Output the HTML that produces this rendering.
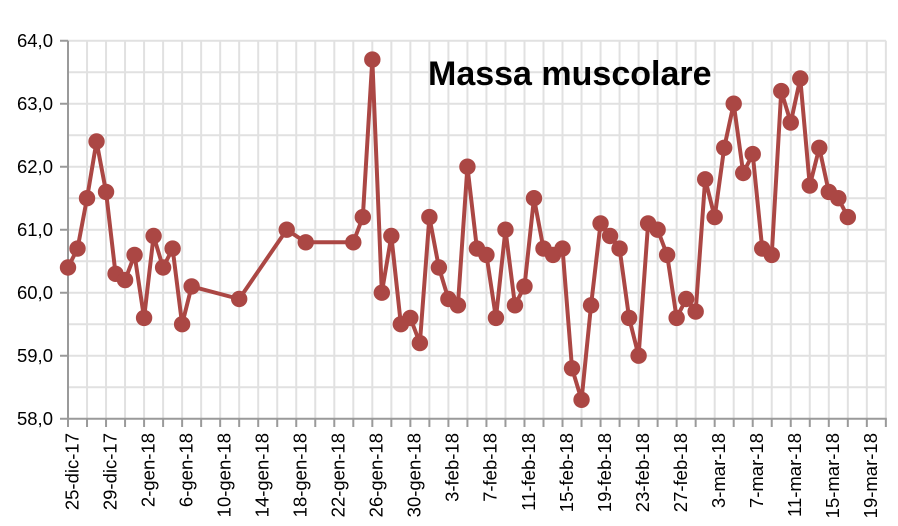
<!DOCTYPE html>
<html><head><meta charset="utf-8"><style>
html,body{margin:0;padding:0;background:#fff;}
svg{display:block;}
text{font-family:"Liberation Sans",Arial,sans-serif;fill:#000;}
</style></head><body>
<svg width="898" height="526" viewBox="0 0 898 526" xmlns="http://www.w3.org/2000/svg">
<defs>
<marker id="dot" viewBox="-10 -10 20 20" markerWidth="20" markerHeight="20" refX="0" refY="0" markerUnits="userSpaceOnUse">
<circle cx="0" cy="0" r="8.2" fill="#ab4744"/>
</marker>
</defs>
<rect width="898" height="526" fill="#fff"/>
<!-- horizontal gridlines -->
<path d="M68 387.2H886M68 355.7H886M68 324.2H886M68 292.7H886M68 261.2H886M68 229.7H886M68 198.2H886M68 166.7H886M68 135.2H886M68 103.7H886M68 72.2H886M68 40.7H886" stroke="#e1e1e1" stroke-width="2" fill="none"/>
<!-- vertical gridlines -->
<path d="M87.02 40.7V418.7M106.04 40.7V418.7M125.06 40.7V418.7M144.08 40.7V418.7M163.1 40.7V418.7M182.12 40.7V418.7M201.14 40.7V418.7M220.16 40.7V418.7M239.18 40.7V418.7M258.2 40.7V418.7M277.22 40.7V418.7M296.24 40.7V418.7M315.26 40.7V418.7M334.28 40.7V418.7M353.3 40.7V418.7M372.32 40.7V418.7M391.34 40.7V418.7M410.36 40.7V418.7M429.38 40.7V418.7M448.4 40.7V418.7M467.42 40.7V418.7M486.44 40.7V418.7M505.46 40.7V418.7M524.48 40.7V418.7M543.5 40.7V418.7M562.52 40.7V418.7M581.54 40.7V418.7M600.56 40.7V418.7M619.58 40.7V418.7M638.6 40.7V418.7M657.62 40.7V418.7M676.64 40.7V418.7M695.66 40.7V418.7M714.68 40.7V418.7M733.7 40.7V418.7M752.72 40.7V418.7M771.74 40.7V418.7M790.76 40.7V418.7M809.78 40.7V418.7M828.8 40.7V418.7M847.82 40.7V418.7M866.84 40.7V418.7M885.86 40.7V418.7" stroke="#e1e1e1" stroke-width="2" fill="none"/>
<!-- axes -->
<path d="M68 40.7V419.7" stroke="#9a9a9a" stroke-width="2" fill="none"/>
<path d="M60 418.7H886.8" stroke="#9a9a9a" stroke-width="2" fill="none"/>
<!-- y ticks -->
<path d="M60 40.7H68M60 103.7H68M60 166.7H68M60 229.7H68M60 292.7H68M60 355.7H68" stroke="#9a9a9a" stroke-width="2" fill="none"/>
<!-- x ticks -->
<path d="M68 418.7V427M87.02 418.7V427M106.04 418.7V427M125.06 418.7V427M144.08 418.7V427M163.1 418.7V427M182.12 418.7V427M201.14 418.7V427M220.16 418.7V427M239.18 418.7V427M258.2 418.7V427M277.22 418.7V427M296.24 418.7V427M315.26 418.7V427M334.28 418.7V427M353.3 418.7V427M372.32 418.7V427M391.34 418.7V427M410.36 418.7V427M429.38 418.7V427M448.4 418.7V427M467.42 418.7V427M486.44 418.7V427M505.46 418.7V427M524.48 418.7V427M543.5 418.7V427M562.52 418.7V427M581.54 418.7V427M600.56 418.7V427M619.58 418.7V427M638.6 418.7V427M657.62 418.7V427M676.64 418.7V427M695.66 418.7V427M714.68 418.7V427M733.7 418.7V427M752.72 418.7V427M771.74 418.7V427M790.76 418.7V427M809.78 418.7V427M828.8 418.7V427M847.82 418.7V427M866.84 418.7V427M885.86 418.7V427" stroke="#9a9a9a" stroke-width="2" fill="none"/>
<!-- y labels -->
<g font-size="18.5" text-anchor="end">
<text x="53" y="47.2">64,0</text>
<text x="53" y="110.2">63,0</text>
<text x="53" y="173.2">62,0</text>
<text x="53" y="236.2">61,0</text>
<text x="53" y="299.2">60,0</text>
<text x="53" y="362.2">59,0</text>
<text x="53" y="425.2">58,0</text>
</g>
<!-- x labels -->
<g font-size="18.5" text-anchor="end">
<text transform="translate(78.3,433) rotate(-90)">25-dic-17</text>
<text transform="translate(116.34,433) rotate(-90)">29-dic-17</text>
<text transform="translate(154.38,433) rotate(-90)">2-gen-18</text>
<text transform="translate(192.42,433) rotate(-90)">6-gen-18</text>
<text transform="translate(230.46,433) rotate(-90)">10-gen-18</text>
<text transform="translate(268.5,433) rotate(-90)">14-gen-18</text>
<text transform="translate(306.54,433) rotate(-90)">18-gen-18</text>
<text transform="translate(344.58,433) rotate(-90)">22-gen-18</text>
<text transform="translate(382.62,433) rotate(-90)">26-gen-18</text>
<text transform="translate(420.66,433) rotate(-90)">30-gen-18</text>
<text transform="translate(458.7,433) rotate(-90)">3-feb-18</text>
<text transform="translate(496.74,433) rotate(-90)">7-feb-18</text>
<text transform="translate(534.78,433) rotate(-90)">11-feb-18</text>
<text transform="translate(572.82,433) rotate(-90)">15-feb-18</text>
<text transform="translate(610.86,433) rotate(-90)">19-feb-18</text>
<text transform="translate(648.9,433) rotate(-90)">23-feb-18</text>
<text transform="translate(686.94,433) rotate(-90)">27-feb-18</text>
<text transform="translate(724.98,433) rotate(-90)">3-mar-18</text>
<text transform="translate(763.02,433) rotate(-90)">7-mar-18</text>
<text transform="translate(801.06,433) rotate(-90)">11-mar-18</text>
<text transform="translate(839.1,433) rotate(-90)">15-mar-18</text>
<text transform="translate(877.14,433) rotate(-90)">19-mar-18</text>
</g>
<!-- title -->
<text x="428" y="85" font-size="34" font-weight="bold">Massa muscolare</text>
<!-- series -->
<polyline fill="none" stroke="#ab4744" stroke-width="4" stroke-linejoin="round"
marker-start="url(#dot)" marker-mid="url(#dot)" marker-end="url(#dot)"
points="68,267.5 77.51,248.6 87.02,198.2 96.53,141.5 106.04,191.9 115.55,273.8 125.06,280.1 134.57,254.9 144.08,317.9 153.59,236 163.1,267.5 172.61,248.6 182.12,324.2 191.63,286.4 239.18,299 286.73,229.7 305.75,242.3 353.3,242.3 362.81,217.1 372.32,59.6 381.83,292.7 391.34,236 400.85,324.2 410.36,317.9 419.87,343.1 429.38,217.1 438.89,267.5 448.4,299 457.91,305.3 467.42,166.7 476.93,248.6 486.44,254.9 495.95,317.9 505.46,229.7 514.97,305.3 524.48,286.4 533.99,198.2 543.5,248.6 553.01,254.9 562.52,248.6 572.03,368.3 581.54,399.8 591.05,305.3 600.56,223.4 610.07,236 619.58,248.6 629.09,317.9 638.6,355.7 648.11,223.4 657.62,229.7 667.13,254.9 676.64,317.9 686.15,299 695.66,311.6 705.17,179.3 714.68,217.1 724.19,147.8 733.7,103.7 743.21,173 752.72,154.1 762.23,248.6 771.74,254.9 781.25,91.1 790.76,122.6 800.27,78.5 809.78,185.6 819.29,147.8 828.8,191.9 838.31,198.2 847.82,217.1"/>
</svg>
</body></html>
